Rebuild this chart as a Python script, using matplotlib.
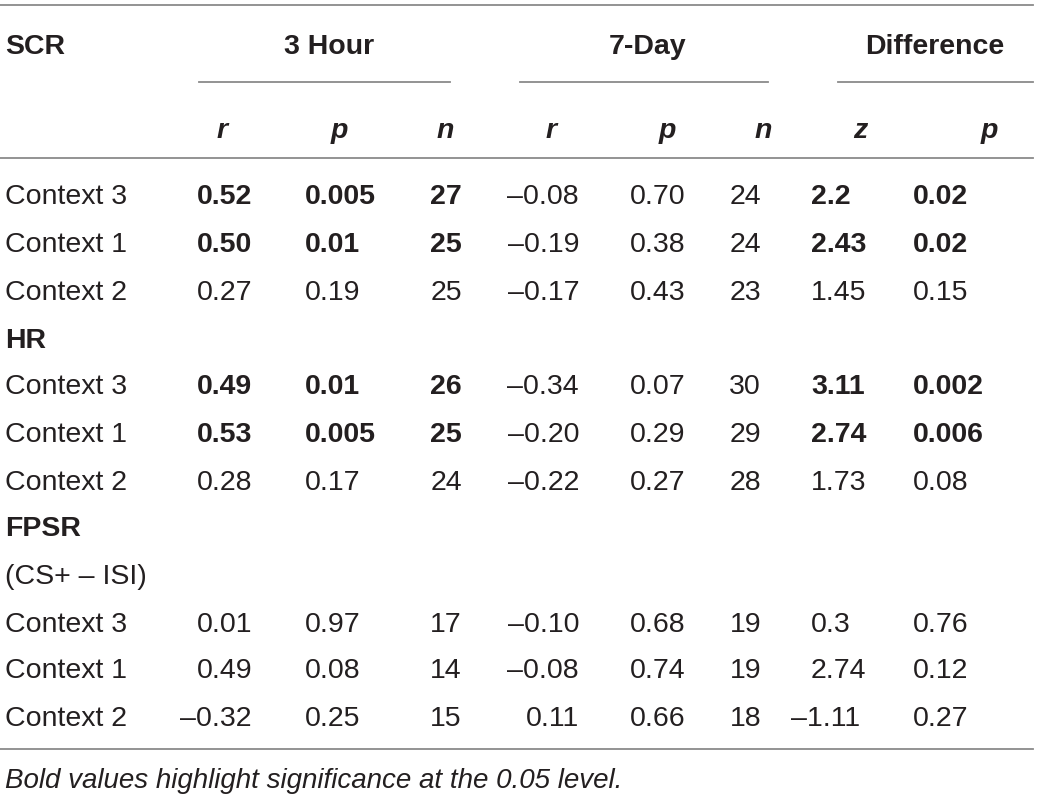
import matplotlib
matplotlib.use("Agg")
import matplotlib.pyplot as plt

# ---- data ----
group_labels = ["SCR", "HR", "FPSR"]
row_labels = ["Context 3", "Context 1", "Context 2"]
fpsr_note = "(CS+ – ISI)"

r3h = [["0.52", "0.50", "0.27"], ["0.49", "0.53", "0.28"], ["0.01", "0.49", "–0.32"]]
p3h = [["0.005", "0.01", "0.19"], ["0.01", "0.005", "0.17"], ["0.97", "0.08", "0.25"]]
n3h = [["27", "25", "25"], ["26", "25", "24"], ["17", "14", "15"]]
r7d = [["–0.08", "–0.19", "–0.17"], ["–0.34", "–0.20", "–0.22"], ["–0.10", "–0.08", "0.11"]]
p7d = [["0.70", "0.38", "0.43"], ["0.07", "0.29", "0.27"], ["0.68", "0.74", "0.66"]]
n7d = [["24", "24", "23"], ["30", "29", "28"], ["19", "19", "18"]]
zdiff = [["2.2", "2.43", "1.45"], ["3.11", "2.74", "1.73"], ["0.3", "2.74", "–1.11"]]
pdiff = [["0.02", "0.02", "0.15"], ["0.002", "0.006", "0.08"], ["0.76", "0.12", "0.27"]]
significant = [[True, True, False], [True, True, False], [False, False, False]]

span_headers = ["3 Hour", "7-Day", "Difference"]
col_headers = ["r", "p", "n", "r", "p", "n", "z", "p"]
footnote = "Bold values highlight significance at the 0.05 level."

# ---- layout ----
W, H = 1039, 799
fig = plt.figure(figsize=(W / 100, H / 100), dpi=100)
ax = fig.add_axes([0, 0, 1, 1])
ax.set_xlim(0, W)
ax.set_ylim(H, 0)
ax.axis("off")

FONT = "Liberation Sans"
FS = 20.5
TXT = "#231f20"
LINE = "#8a8a8a"
LW = 1.3
BASE = 10.5  # baseline offset below the visual centre of capitals

def t(x, y, s, ha="left", bold=False, italic=False, size=FS):
    ax.text(x, y + BASE, s, ha=ha, va="baseline", fontsize=size, family=FONT, color=TXT,
            fontweight="bold" if bold else "normal",
            fontstyle="italic" if italic else "normal")

# rules
ax.plot([0, 1033], [5, 5], color=LINE, lw=LW)
ax.plot([0, 1033], [158, 158], color=LINE, lw=LW)
ax.plot([0, 1033], [749, 749], color=LINE, lw=LW)
for x0, x1 in [(199, 450), (520, 768), (838, 1033)]:
    ax.plot([x0, x1], [82, 82], color=LINE, lw=LW)

# headers
t(5, 43, group_labels[0], bold=True)
for x, s in zip([329, 648, 935], span_headers):
    t(x, 43, s, ha="center", bold=True)
for x, s in zip([222, 339, 445, 551, 667, 763, 860, 989], col_headers):
    t(x, 127, s, ha="center", bold=True, italic=True)

# column anchors: (x, align)
cols = [(r3h, 252, "right", True), (p3h, 305, "left", True), (n3h, 462, "right", True),
        (r7d, 579, "right", False), (p7d, 630, "left", False), (n7d, 761, "right", False),
        (zdiff, 811, "zleft", True), (pdiff, 913, "left", True)]

group_rows = [[194, 242, 290], [384, 431, 479], [621, 668, 716]]
group_title_y = [None, 337, 526]

t(5, 573, fpsr_note)
for g in range(3):
    if group_title_y[g] is not None:
        t(5, group_title_y[g], group_labels[g], bold=True)
    for i, y in enumerate(group_rows[g]):
        t(5, y, row_labels[i])
        for data, x, al, can_bold in cols:
            s = data[g][i]
            b = can_bold and significant[g][i]
            if al == "zleft":
                if s.startswith("–"):
                    t(x - 20, y, s, ha="left", bold=b)
                else:
                    t(x, y, s, ha="left", bold=b)
            else:
                t(x, y, s, ha=al, bold=b)

t(5, 778, footnote, italic=True, size=20)

fig.savefig("out.png", dpi=100)
